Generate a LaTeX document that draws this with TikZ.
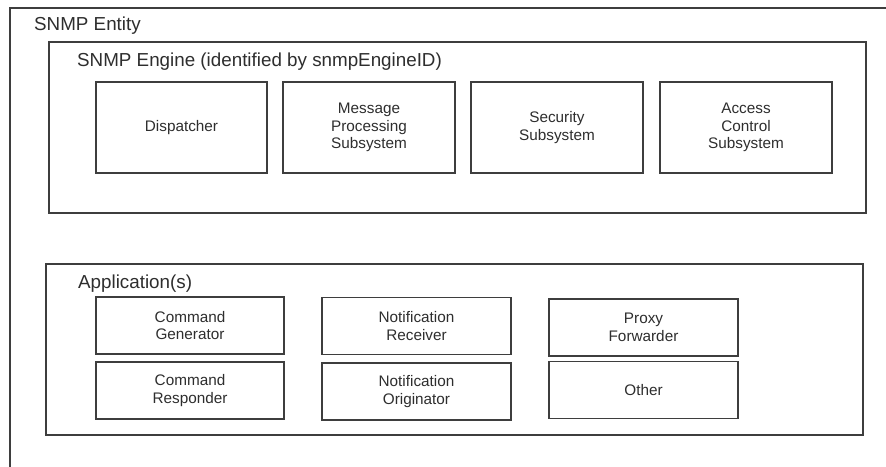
\documentclass[tikz,border=0pt]{standalone}
\usepackage{fontspec}
\setmainfont{Liberation Sans}
\definecolor{edge}{HTML}{3E3E3E}
\definecolor{ink}{HTML}{2E2E2E}
\begin{document}
\begin{tikzpicture}[x=1pt,y=-1pt,
  frame/.style={draw=edge,line width=1.2pt,rectangle,inner sep=0pt},
  part/.style={frame,align=center,text=ink,
    font=\fontsize{15.3}{17.6}\selectfont},
  title/.style={anchor=base west,inner sep=0pt,text=ink,
    font=\fontsize{18.8}{21}\selectfont}]
\useasboundingbox[fill=white] (0,0) rectangle (886,466);

% SNMP entity frame (runs off the right and bottom edges)
\coordinate (entBL) at (10,470);
\coordinate (entTL) at (10,8);
\coordinate (entTR) at (890,8);
\draw[edge,line width=1.2pt] (entBL) -- (entTL) -- (entTR);
\node[title] (entTitle) at (34,30) {SNMP Entity};

% SNMP engine
\node[frame,minimum width=817,minimum height=171] (engine) at (457.5,127.5) {};
\node[title] (engTitle) at (77,66.5) {SNMP Engine (identified by snmpEngineID)};
\node[part,minimum width=171,minimum height=91] (disp) at (181.5,127.5) {Dispatcher};
\node[part,minimum width=172,minimum height=91] (mps) at (369,127.5) {Message\\Processing\\Subsystem};
\node[part,minimum width=172,minimum height=91] (sec) at (557,127.5) {Security\\Subsystem};
\node[part,minimum width=172,minimum height=91] (acs) at (746,127.5) {Access\\Control\\Subsystem};

% Applications
\node[frame,minimum width=817,minimum height=171] (apps) at (454.5,349.5) {};
\node[title] (appTitle) at (78,288.5) {Application(s)};
\node[part,minimum width=188,minimum height=57] (cgen) at (190,325.5) {Command\\Generator};
\node[part,minimum width=188,minimum height=57] (cresp) at (190,390.5) {Command\\Responder};
\node[part,minimum width=189,minimum height=57] (nrecv) at (416.5,326) {Notification\\Receiver};
\node[part,minimum width=189,minimum height=57] (norig) at (416.5,391.5) {Notification\\Originator};
\node[part,minimum width=189,minimum height=57] (proxy) at (643.5,327.5) {Proxy\\Forwarder};
\node[part,minimum width=189,minimum height=57] (other) at (643.5,390) {Other};
\end{tikzpicture}
\end{document}
